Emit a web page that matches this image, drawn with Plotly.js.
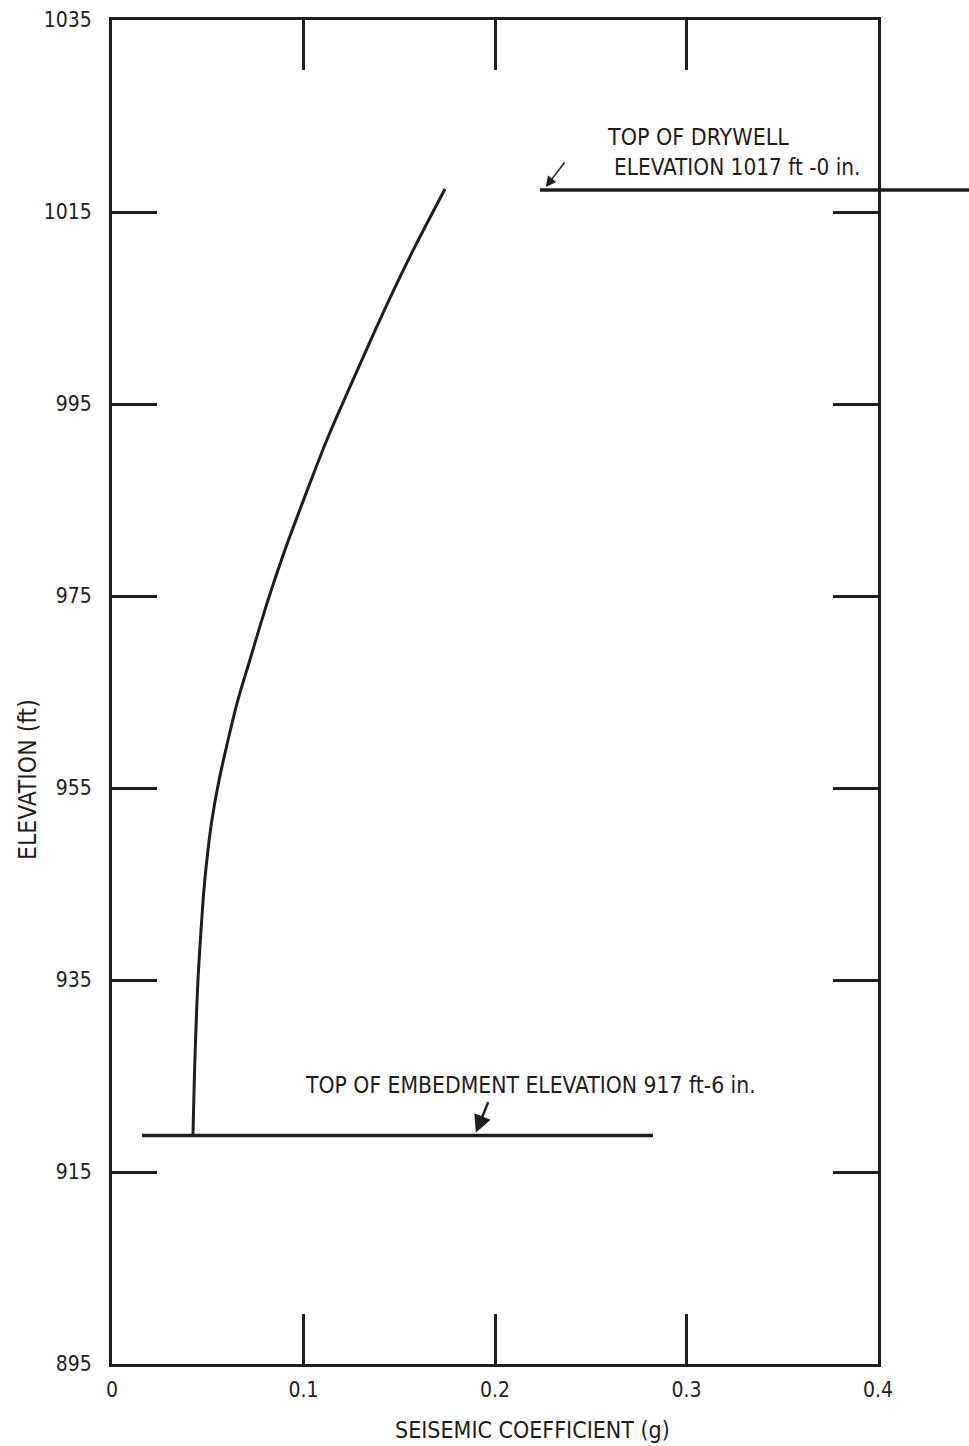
<!DOCTYPE html>
<html>
<head>
<meta charset="utf-8">
<script src="https://cdn.plot.ly/plotly-3.0.1.min.js"></script>
<style>html,body{margin:0;padding:0;background:#fff;}#chart{width:969px;height:1446px;}</style>
</head>
<body>
<div id="chart"></div>
<script>
// Seismic coefficient curve (g) vs elevation (ft)
const curveCoef = [0.0423, 0.0433, 0.0449, 0.0465, 0.0480, 0.0501, 0.0522, 0.0559, 0.0606, 0.0658, 0.0715, 0.0815, 0.0903, 0.0987, 0.1123, 0.1243, 0.1368, 0.1446, 0.1572, 0.1739];
const curveElev = [918.8, 926.7, 935.0, 940.2, 944.4, 948.5, 951.7, 955.8, 960.0, 964.2, 968.0, 974.6, 979.8, 984.3, 991.3, 996.8, 1002.4, 1005.8, 1011.0, 1017.4];

// Reference levels
const embedmentCoef = [0.0157, 0.2825];
const embedmentElev = [918.8, 918.8];
const drywellCoef = [0.2235, 0.4];
const drywellElev = [1017.3, 1017.3];
const drywellExtendPaper = 1.12;

// Axis ticks
const xTickVals = [0, 0.1, 0.2, 0.3, 0.4];
const xTickText = ['0', '0.1', '0.2', '0.3', '0.4'];
const yTickVals = [895, 915, 935, 955, 975, 995, 1015, 1035];

// Labels
const drywellLabel1 = 'TOP OF DRYWELL';
const drywellLabel2 = 'ELEVATION 1017 ft -0 in.';
const embedmentLabel = 'TOP OF EMBEDMENT ELEVATION 917 ft-6 in.';
const xTitle = 'SEISEMIC COEFFICIENT (g)';
const yTitle = 'ELEVATION (ft)';

const FONT = '"Liberation Sans Narrow", "DejaVu Sans Condensed", "Roboto Condensed", sans-serif';
const INK = '#1e1e1e';

const traces = [
  {x: curveCoef, y: curveElev, mode: 'lines', line: {color: INK, width: 3, shape: 'spline', smoothing: 1}, hoverinfo: 'skip'},
  {x: embedmentCoef, y: embedmentElev, mode: 'lines', line: {color: INK, width: 3.5}, hoverinfo: 'skip'},
  {x: drywellCoef, y: drywellElev, mode: 'lines', line: {color: INK, width: 3.5}, hoverinfo: 'skip'}
];

const axisCommon = {
  showgrid: false, zeroline: false, showline: true, linecolor: INK, linewidth: 3,
  mirror: 'ticks', ticks: 'inside', tickcolor: INK, tickwidth: 3,
  tickfont: {family: FONT, size: 21, color: INK}
};

const layout = {
  width: 969, height: 1446,
  margin: {l: 112, r: 91, t: 20, b: 82},
  paper_bgcolor: '#fff', plot_bgcolor: '#fff',
  showlegend: false,
  xaxis: Object.assign({}, axisCommon, {range: [0, 0.4], tickvals: xTickVals, ticktext: xTickText, ticklen: 50, ticklabelstandoff: 5}),
  yaxis: Object.assign({}, axisCommon, {range: [895, 1035], tickvals: yTickVals, ticklen: 45, ticklabelstandoff: 13}),
  shapes: [
    {type: 'line', xref: 'paper', yref: 'y', x0: 1, x1: drywellExtendPaper, y0: drywellElev[1], y1: drywellElev[1], line: {color: INK, width: 3.5}}
  ],
  annotations: [
    {text: drywellLabel1, xref: 'paper', yref: 'y', x: 0.6436, y: 1022.8, xanchor: 'left', yanchor: 'middle', showarrow: false, font: {family: FONT, size: 23, color: INK}},
    {text: drywellLabel2, xref: 'paper', yref: 'y', x: 0.6527, y: 1019.7, xanchor: 'left', yanchor: 'middle', showarrow: false, font: {family: FONT, size: 22.4, color: INK}},
    {text: embedmentLabel, xref: 'paper', yref: 'y', x: 0.2493, y: 924.1, xanchor: 'left', yanchor: 'middle', showarrow: false, font: {family: FONT, size: 22.7, color: INK}},
    {text: '', xref: 'x', yref: 'y', x: 0.1900, y: embedmentElev[0] + 0.3, ax: 13, ay: -32, showarrow: true, arrowhead: 2, arrowsize: 1.4, arrowwidth: 2.5, arrowcolor: INK},
    {text: '', xref: 'x', yref: 'y', x: 0.2265, y: drywellElev[0] + 0.3, ax: 20, ay: -26, showarrow: true, arrowhead: 2, arrowsize: 1.4, arrowwidth: 1.5, arrowcolor: INK},
    {text: xTitle, xref: 'paper', yref: 'paper', x: 0.5496, y: -0.0491, xanchor: 'center', yanchor: 'middle', showarrow: false, font: {family: FONT, size: 23, color: INK}},
    {text: yTitle, xref: 'paper', yref: 'paper', x: -0.1097, y: 0.4353, xanchor: 'center', yanchor: 'middle', textangle: -90, showarrow: false, font: {family: FONT, size: 24.5, color: INK}}
  ]
};

Plotly.newPlot('chart', traces, layout, {displayModeBar: false, staticPlot: true});
</script>
</body>
</html>
